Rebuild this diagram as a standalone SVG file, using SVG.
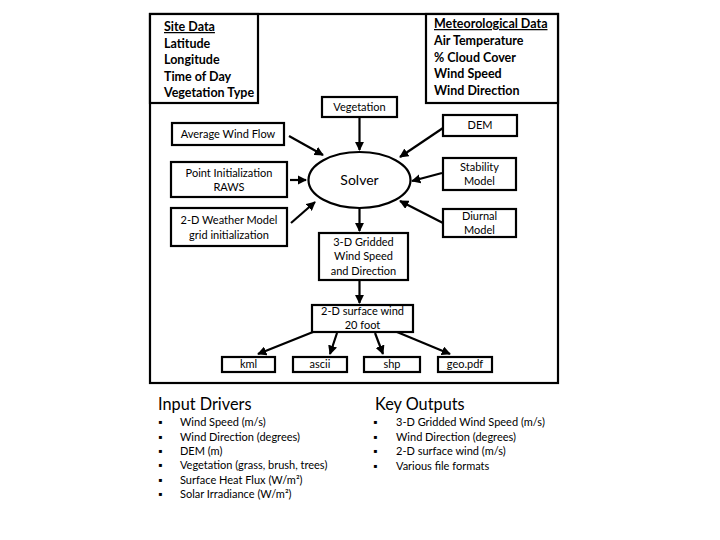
<svg xmlns="http://www.w3.org/2000/svg" width="720" height="540" viewBox="0 0 720 540">
<style>
text{font-family:Lato,"Liberation Sans",sans-serif;fill:#000}
.b{fill:#fff;stroke:#000;stroke-width:2.2}
.t{font-size:11px;text-anchor:middle}
.h{font-size:12.5px;font-weight:bold}
.c line{stroke:#000;stroke-width:2.2;marker-end:url(#a)}
.l{font-size:11px}
.big{font-size:16.3px}
</style>
<defs>
<marker id="a" viewBox="0 0 10 10" refX="9" refY="5" markerWidth="4.2" markerHeight="4.2" orient="auto" markerUnits="strokeWidth">
<path d="M0,0L10,5L0,10z" fill="#000"/>
</marker>
</defs>
<rect id="frame" x="150" y="14" width="408" height="369" fill="#fff" stroke="#000" stroke-width="2.2"/>
<g id="site">
<rect class="b" x="150" y="14" width="108" height="89"/>
<text class="h" x="164" y="31" text-decoration="underline">Site Data</text>
<text class="h" x="164" y="48">Latitude</text>
<text class="h" x="164" y="64">Longitude</text>
<text class="h" x="164" y="81">Time of Day</text>
<text class="h" x="164" y="97">Vegetation Type</text>
</g>
<g id="met">
<rect class="b" x="426" y="14" width="132" height="89"/>
<text class="h" x="434" y="28" text-decoration="underline">Meteorological Data</text>
<text class="h" x="434" y="45">Air Temperature</text>
<text class="h" x="434" y="62">% Cloud Cover</text>
<text class="h" x="434" y="78">Wind Speed</text>
<text class="h" x="434" y="95">Wind Direction</text>
</g>
<g id="vegetation"><rect class="b" x="322" y="97" width="75" height="20"/><text class="t" x="359.5" y="111">Vegetation</text></g>
<g id="avg"><rect class="b" x="172" y="123" width="112" height="22"/><text class="t" x="228" y="138">Average Wind Flow</text></g>
<g id="dem"><rect class="b" x="443" y="115" width="74" height="21"/><text class="t" x="480" y="129">DEM</text></g>
<g id="solver"><ellipse cx="359.5" cy="180" rx="51" ry="28" fill="#fff" stroke="#000" stroke-width="2.2"/><text x="359.5" y="185" font-size="14" text-anchor="middle">Solver</text></g>
<g id="point"><rect class="b" x="171" y="162" width="116" height="35"/><text class="t" x="229" y="177">Point Initialization</text><text class="t" x="229" y="191">RAWS</text></g>
<g id="weather"><rect class="b" x="171" y="208" width="116" height="38"/><text class="t" x="229" y="224">2-D Weather Model</text><text class="t" x="229" y="239">grid initialization</text></g>
<g id="stability"><rect class="b" x="443" y="158" width="73" height="32"/><text class="t" x="479.5" y="171">Stability</text><text class="t" x="479.5" y="185">Model</text></g>
<g id="diurnal"><rect class="b" x="443" y="209" width="73" height="28"/><text class="t" x="479.5" y="220">Diurnal</text><text class="t" x="479.5" y="234">Model</text></g>
<g id="gridded"><rect class="b" x="319" y="233" width="89" height="47"/><text class="t" x="363.5" y="246">3-D Gridded</text><text class="t" x="363.5" y="260">Wind Speed</text><text class="t" x="363.5" y="275">and Direction</text></g>
<g id="surface"><rect class="b" x="312" y="305" width="101" height="27"/><text class="t" x="362.5" y="315">2-D surface wind</text><text class="t" x="362.5" y="329">20 foot</text></g>
<g id="kml"><rect class="b" x="222" y="357" width="53" height="15"/><text class="t" x="248.5" y="368">kml</text></g>
<g id="ascii"><rect class="b" x="293" y="357" width="54" height="15"/><text class="t" x="320" y="368">ascii</text></g>
<g id="shp"><rect class="b" x="364" y="357" width="56" height="15"/><text class="t" x="392" y="368">shp</text></g>
<g id="geopdf"><rect class="b" x="438" y="357" width="54" height="15"/><text class="t" x="465" y="368">geo.pdf</text></g>
<g class="c" id="connectors">
<line x1="289" y1="136" x2="323" y2="155"/>
<line x1="359.5" y1="117" x2="359.5" y2="150"/>
<line x1="443" y1="128" x2="400" y2="157"/>
<line x1="290" y1="180" x2="306" y2="180"/>
<line x1="291" y1="223" x2="315" y2="202"/>
<line x1="442" y1="173" x2="412" y2="181"/>
<line x1="443" y1="223" x2="400" y2="201"/>
<line x1="359.5" y1="208" x2="359.5" y2="231"/>
<line x1="359.5" y1="280" x2="359.5" y2="303"/>
<line x1="313" y1="332" x2="258" y2="354"/>
<line x1="337" y1="333" x2="330" y2="354"/>
<line x1="375" y1="333" x2="383" y2="354"/>
<line x1="397" y1="332" x2="450" y2="354"/>
</g>
<g id="inputs">
<text class="big" x="158" y="410">Input Drivers</text>
<g class="l">
<text x="158" y="426">▪</text><text x="180" y="426">Wind Speed (m/s)</text>
<text x="158" y="441">▪</text><text x="180" y="441">Wind Direction (degrees)</text>
<text x="158" y="455">▪</text><text x="180" y="455">DEM (m)</text>
<text x="158" y="469">▪</text><text x="180" y="469">Vegetation (grass, brush, trees)</text>
<text x="158" y="484">▪</text><text x="180" y="484">Surface Heat Flux (W/m²)</text>
<text x="158" y="498">▪</text><text x="180" y="498">Solar Irradiance (W/m²)</text>
</g>
</g>
<g id="outputs">
<text class="big" x="375" y="410">Key Outputs</text>
<g class="l">
<text x="373" y="426">▪</text><text x="396" y="426">3-D Gridded  Wind Speed (m/s)</text>
<text x="373" y="441">▪</text><text x="396" y="441">Wind Direction (degrees)</text>
<text x="373" y="455">▪</text><text x="396" y="455">2-D surface wind (m/s)</text>
<text x="373" y="470">▪</text><text x="396" y="470">Various file formats</text>
</g>
</g>
</svg>
